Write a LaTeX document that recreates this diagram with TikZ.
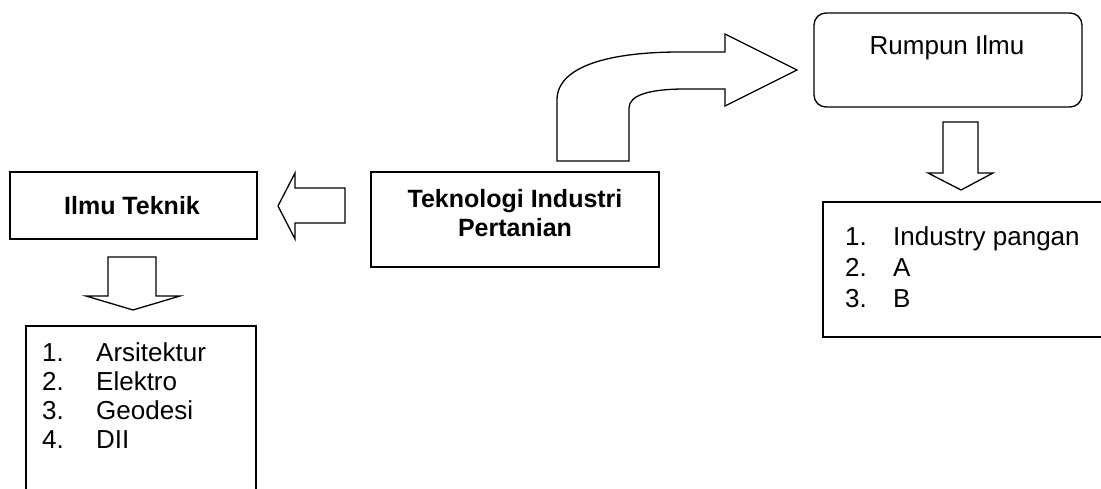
\documentclass[tikz,border=0pt]{standalone}
\usepackage{fontspec}
\setmainfont{Liberation Sans}
\begin{document}
\begin{tikzpicture}[x=1pt,y=-1pt,
  box/.style={draw,line width=1.3pt,rectangle,inner sep=0pt},
  blk/.style={draw,line width=1.3pt,line join=miter,fill=white},
  txt/.style={inner sep=0pt,font=\fontsize{26}{29.5}\selectfont},
  btxt/.style={inner sep=0pt,font=\fontsize{25}{29}\selectfont\bfseries,align=center},
]
\useasboundingbox (0,0) rectangle (1101,489);
\fill[white] (0,0) rectangle (1101,489);
% boxes
\node[box,minimum width=247pt,minimum height=67pt] (ilmu) at (133.5,205.5) {};
\node[btxt] (ilmuT) at (132,205.5) {Ilmu Teknik};
\node[box,minimum width=288pt,minimum height=95pt] (tip) at (515,219.5) {};
\node[btxt] (tipT) at (515,213.5) {Teknologi Industri\\Pertanian};
\node[box,rounded corners=12pt,minimum width=268pt,minimum height=94pt] (rumpun) at (948,60) {};
\node[txt,anchor=base] (rumpunT) at (947,54.5) {Rumpun Ilmu};
% list boxes (open at picture edge)
\coordinate (l1) at (26,495);
\coordinate (l2) at (26,326);
\coordinate (l3) at (256,326);
\coordinate (l4) at (256,495);
\draw[line width=1.3pt] (l1) -- (l2) -- (l3) -- (l4);
\coordinate (r1) at (1110,202);
\coordinate (r2) at (823,202);
\coordinate (r3) at (823,337);
\coordinate (r4) at (1110,337);
\draw[line width=1.3pt] (r1) -- (r2) -- (r3) -- (r4);
% left list
\node[txt,anchor=base west] (n1) at (42,361.5) {1.};
\node[txt,anchor=base west] (t1) at (96,361.5) {Arsitektur};
\node[txt,anchor=base west] (n2) at (42,390.5) {2.};
\node[txt,anchor=base west] (t2) at (96,390.5) {Elektro};
\node[txt,anchor=base west] (n3) at (42,419.5) {3.};
\node[txt,anchor=base west] (t3) at (96,419.5) {Geodesi};
\node[txt,anchor=base west] (n4) at (42,448.5) {4.};
\node[txt,anchor=base west] (t4) at (96,448.5) {DII};
% right list
\node[txt,anchor=base west] (m1) at (845,245.5) {1.};
\node[txt,anchor=base west] (s1) at (893,245.5) {Industry pangan};
\node[txt,anchor=base west] (m2) at (845,276.5) {2.};
\node[txt,anchor=base west] (s2) at (893,276.5) {A};
\node[txt,anchor=base west] (m3) at (845,307.5) {3.};
\node[txt,anchor=base west] (s3) at (893,307.5) {B};
% block arrows
\draw[blk] (345,188) -- (295,188) -- (295,173) -- (278,206) -- (295,239) -- (295,223) -- (345,223) -- cycle;
\draw[blk] (108,257) -- (156,257) -- (156,296) -- (180,296) -- (133,310) -- (86,296) -- (108,296) -- cycle;
\draw[blk] (943,122) -- (978,122) -- (978,173) -- (993,173) -- (961,190) -- (928,173) -- (943,173) -- cycle;
\draw[blk] (557,161) -- (557,100) .. controls (557,66) and (610,52) .. (680,52) -- (725,52) -- (725,34) -- (797,70) -- (725,106) -- (725,89) -- (685,89) .. controls (650,89) and (629,95) .. (629,108) -- (629,161) -- cycle;
\end{tikzpicture}
\end{document}
